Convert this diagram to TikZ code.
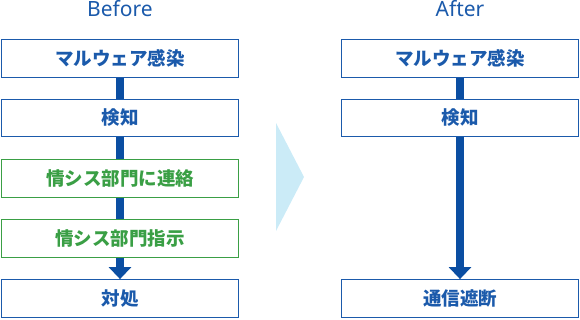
\documentclass[tikz,border=0pt]{standalone}
\usepackage{fontspec}
\setmainfont{Noto Sans}
\newfontfamily\jpfont{Noto Sans CJK JP}
\usetikzlibrary{arrows.meta}
\definecolor{boxblue}{HTML}{1B5AAB}
\definecolor{boxgreen}{HTML}{3A9F45}
\definecolor{linkblue}{HTML}{0B4EA2}
\definecolor{pale}{HTML}{CBEBF7}
\begin{document}
\begin{tikzpicture}[x=1pt, y=-1pt,
  title/.style={anchor=base, text=boxblue, font=\fontsize{21}{21}\selectfont},
  box/.style={draw=boxblue, line width=1.3pt, minimum width=237.5pt, minimum height=37.5pt,
    inner sep=0pt, text=boxblue, font=\jpfont\bfseries\fontsize{18.5}{18.5}\selectfont},
  greenbox/.style={box, draw=boxgreen, text=boxgreen},
  link/.style={draw=linkblue, line width=8pt},
  linkarrow/.style={link, -{Triangle[width=22pt, length=12pt]}}]
\useasboundingbox (0,0) rectangle (580,319);

\node[title] (before) at (120,16.7) {Before};
\node[box] (infect) at (120,58.5) {マルウェア感染};
\node[box] (detect) at (120,118) {検知};
\node[greenbox] (contact) at (120,178.5) {情シス部門に連絡};
\node[greenbox] (order) at (120,238.5) {情シス部門指示};
\node[box] (handle) at (120,298.5) {対処};
\draw[link] (infect) -- (detect);
\draw[link] (detect) -- (contact);
\draw[link] (contact) -- (order);
\draw[linkarrow] (order) -- (handle);

\fill[pale] (276,123) -- (304,177) -- (276,231) -- cycle;

\node[title] (after) at (460,16.7) {After};
\node[box] (infect2) at (460,58.5) {マルウェア感染};
\node[box] (detect2) at (460,118) {検知};
\node[box] (cut) at (460,298.5) {通信遮断};
\draw[link] (infect2) -- (detect2);
\draw[linkarrow] (detect2) -- (cut);
\end{tikzpicture}
\end{document}
